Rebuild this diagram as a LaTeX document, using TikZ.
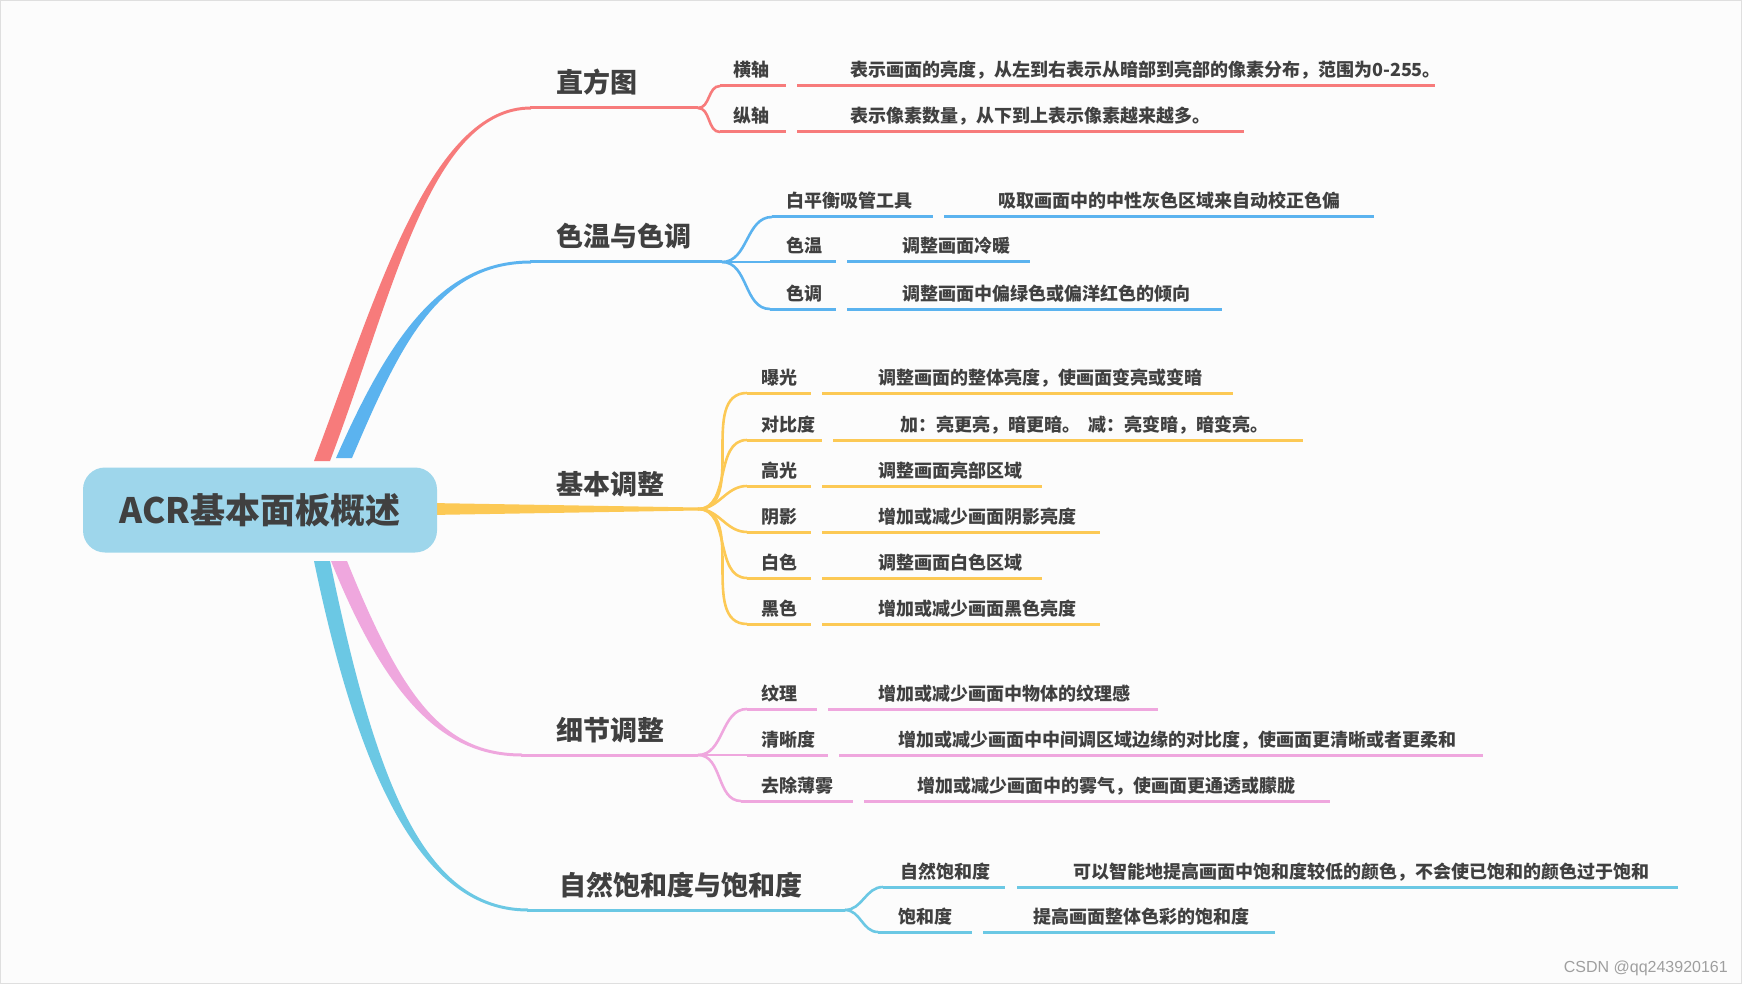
\documentclass[tikz,border=0pt]{standalone}
\usepackage{fontspec}
\setmainfont{Noto Sans CJK SC}
\newfontfamily\wmfont{Liberation Sans}
\definecolor{cred}{HTML}{F77B7B}
\definecolor{cblue}{HTML}{5BB3EF}
\definecolor{cyel}{HTML}{FCC955}
\definecolor{cpink}{HTML}{EFA7DE}
\definecolor{ccyan}{HTML}{6BC8E4}
\definecolor{croot}{HTML}{9ED6EB}
\definecolor{ctext}{HTML}{404040}
\definecolor{cbg}{HTML}{FCFCFC}
\tikzset{
  brlabel/.style={font=\fontsize{27}{27}\selectfont\bfseries, text=ctext, anchor=base west, inner sep=0pt},
  sublabel/.style={font=\fontsize{18}{18}\selectfont\bfseries, text=ctext, anchor=base west, inner sep=0pt},
  uline/.style={line width=3pt},
  conn/.style={line width=2.6pt},
}
\begin{document}
\begin{tikzpicture}[x=1pt,y=-1pt]
\useasboundingbox (0,0) rectangle (1742,984);
\fill[cbg] (0,0) rectangle (1742,984);
\draw[gray!25, line width=1pt] (0.5,0.5) rectangle (1741.5,983.5);

% ---------- coordinates ----------
\coordinate (J1) at (698,108);
\coordinate (J2) at (722,262);
\coordinate (J3) at (698,509);
\coordinate (J4) at (698,755);
\coordinate (J5) at (845,910);

% ---------- main branches (tapered) ----------
\fill[cred] (314,461) .. controls (377,295) and (430,106.5) .. (531,106.5) -- (531,109.5) .. controls (430,109.5) and (393,295) .. (330,461) -- cycle;
\draw[uline,cred] (530,108) -- (J1);
\fill[cblue] (336,458) .. controls (388,340) and (440,260.5) .. (531,260.5) -- (531,263.5) .. controls (440,263.5) and (402,340) .. (352,458) -- cycle;
\draw[uline,cblue] (530,262) -- (J2);
\fill[cyel] (430,503) -- (698,507.5) -- (698,510.5) -- (430,515) -- cycle;
\fill[cpink] (331,561) .. controls (387,700) and (444,756.5) .. (522,756.5) -- (522,753.5) .. controls (444,753.5) and (403,700) .. (347,561) -- cycle;
\draw[uline,cpink] (521,755) -- (J4);
\fill[ccyan] (314,561) .. controls (359,778) and (422,911.5) .. (528,911.5) -- (528,908.5) .. controls (422,908.5) and (375,778) .. (330,561) -- cycle;
\draw[uline,ccyan] (527,910) -- (J5);

% ---------- branch labels ----------
\node[brlabel] (b1) at (556,93) {直方图};
\node[brlabel] (b2) at (556,247) {色温与色调};
\node[brlabel] (b3) at (556,494) {基本调整};
\node[brlabel] (b4) at (556,740) {细节调整};
\node[brlabel] (b5) at (559,895) {自然饱和度与饱和度};

% ---------- red subs ----------
\coordinate (r1) at (720,86);
\coordinate (r2) at (720,132);
\draw[conn,cred] (J1) to[out=0,in=180] (r1);
\draw[conn,cred] (J1) to[out=0,in=180] (r2);
\draw[uline,cred] (r1) -- (786,86) (797,86) -- (1435,86);
\draw[uline,cred] (r2) -- (786,132) (797,132) -- (1244,132);
\node[sublabel] (r1l) at (733,77) {横轴};
\node[sublabel] (r1d) at (850,77) {表示画面的亮度，从左到右表示从暗部到亮部的像素分布，范围为0-255。};
\node[sublabel] (r2l) at (733,123) {纵轴};
\node[sublabel] (r2d) at (850,123) {表示像素数量，从下到上表示像素越来越多。};

% ---------- blue subs ----------
\coordinate (u1) at (772,217);
\coordinate (u2) at (770,262);
\coordinate (u3) at (770,309);
\draw[conn,cblue] (J2) to[out=0,in=180] (u1);
\draw[conn,cblue] (J2) -- (u2);
\draw[conn,cblue] (J2) to[out=0,in=180] (u3);
\draw[uline,cblue] (u1) -- (933,217) (944,217) -- (1374,217);
\draw[uline,cblue] (u2) -- (836,262) (847,262) -- (1030,262);
\draw[uline,cblue] (u3) -- (836,309) (847,309) -- (1222,309);
\node[sublabel] (u1l) at (786,208) {白平衡吸管工具};
\node[sublabel] (u1d) at (998,208) {吸取画面中的中性灰色区域来自动校正色偏};
\node[sublabel] (u2l) at (786,253) {色温};
\node[sublabel] (u2d) at (902,253) {调整画面冷暖};
\node[sublabel] (u3l) at (786,300) {色调};
\node[sublabel] (u3d) at (902,300) {调整画面中偏绿色或偏洋红色的倾向};

% ---------- yellow subs ----------
\foreach \nm/\yy/\ee/\ga in {y1/393/1233/811, y2/440/1303/822, y3/486/1042/811, y4/532/1100/811, y5/578/1042/811, y6/624/1100/811}{
  \coordinate (\nm) at (747,\yy);
  \draw[conn,cyel] (J3) to[out=0,in=180] (\nm);
  \draw[uline,cyel] (\nm) -- (\ga,\yy) (\ga+11,\yy) -- (\ee,\yy);
}
\node[sublabel] (y1l) at (761,384) {曝光};
\node[sublabel] (y1d) at (878,384) {调整画面的整体亮度，使画面变亮或变暗};
\node[sublabel] (y2l) at (761,431) {对比度};
\node[sublabel] (y2d) at (900,431) {加：亮更亮，暗更暗。\ \ 减：亮变暗，暗变亮。};
\node[sublabel] (y3l) at (761,477) {高光};
\node[sublabel] (y3d) at (878,477) {调整画面亮部区域};
\node[sublabel] (y4l) at (761,523) {阴影};
\node[sublabel] (y4d) at (878,523) {增加或减少画面阴影亮度};
\node[sublabel] (y5l) at (761,569) {白色};
\node[sublabel] (y5d) at (878,569) {调整画面白色区域};
\node[sublabel] (y6l) at (761,615) {黑色};
\node[sublabel] (y6d) at (878,615) {增加或减少画面黑色亮度};

% ---------- pink subs ----------
\coordinate (p1) at (747,709);
\coordinate (p2) at (747,755);
\coordinate (p3) at (741,801);
\draw[conn,cpink] (J4) to[out=0,in=180] (p1);
\draw[conn,cpink] (J4) -- (p2);
\draw[conn,cpink] (J4) to[out=0,in=180] (p3);
\draw[uline,cpink] (p1) -- (817,709) (828,709) -- (1158,709);
\draw[uline,cpink] (p2) -- (828,755) (839,755) -- (1483,755);
\draw[uline,cpink] (p3) -- (853,801) (864,801) -- (1330,801);
\node[sublabel] (p1l) at (761,700) {纹理};
\node[sublabel] (p1d) at (878,700) {增加或减少画面中物体的纹理感};
\node[sublabel] (p2l) at (761,746) {清晰度};
\node[sublabel] (p2d) at (898,746) {增加或减少画面中中间调区域边缘的对比度，使画面更清晰或者更柔和};
\node[sublabel] (p3l) at (761,792) {去除薄雾};
\node[sublabel] (p3d) at (917,792) {增加或减少画面中的雾气，使画面更通透或朦胧};

% ---------- cyan subs ----------
\coordinate (c1) at (883,887);
\coordinate (c2) at (878,932);
\draw[conn,ccyan] (J5) to[out=0,in=180] (c1);
\draw[conn,ccyan] (J5) to[out=0,in=180] (c2);
\draw[uline,ccyan] (c1) -- (1005,887) (1017,887) -- (1678,887);
\draw[uline,ccyan] (c2) -- (972,932) (983,932) -- (1275,932);
\node[sublabel] (c1l) at (900,878) {自然饱和度};
\node[sublabel] (c1d) at (1073,878) {可以智能地提高画面中饱和度较低的颜色，不会使已饱和的颜色过于饱和};
\node[sublabel] (c2l) at (898,923) {饱和度};
\node[sublabel] (c2d) at (1033,923) {提高画面整体色彩的饱和度};

% ---------- root ----------
\node[fill=croot, rounded corners=22pt, minimum width=354pt, minimum height=85pt, inner sep=0pt,
      font=\fontsize{35}{35}\selectfont\bfseries, text=ctext] (root) at (260,510) {ACR基本面板概述};

% ---------- watermark ----------
\node[anchor=base east, inner sep=0pt, font=\wmfont\fontsize{16}{16}\selectfont, text=gray!75] (wm) at (1728,972) {CSDN @qq243920161};
\end{tikzpicture}
\end{document}
